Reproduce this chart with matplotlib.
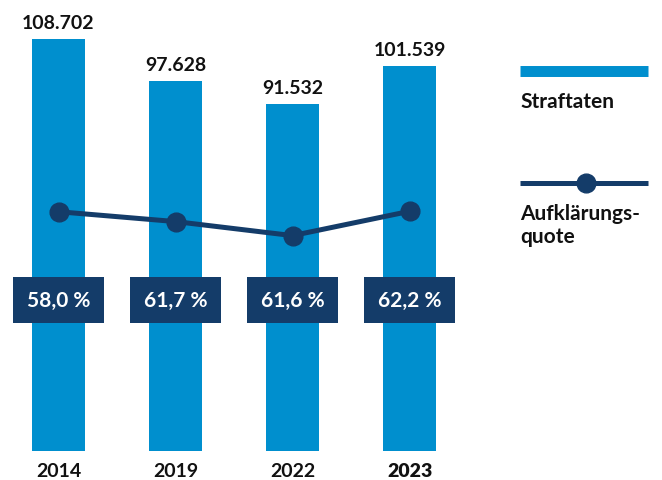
import matplotlib.pyplot as plt
from matplotlib.lines import Line2D

years = ["2014", "2019", "2022", "2023"]
straftaten = [108702, 97628, 91532, 101539]
quote = [58.0, 61.7, 61.6, 62.2]
quote_line_level = [63100, 60500, 56800, 63200]

BLUE = "#008fce"
NAVY = "#143c69"
FONT = "Lato"
INK = "#111111"

W, H = 662, 481
fig = plt.figure(figsize=(W / 100, H / 100), dpi=100)

# axes: bar centers at 58.5 + 117*i px, baseline at 452 px
ax = fig.add_axes([0, (H - 452) / H, 468 / W, 436 / H])
ax.set_xlim(-0.5, 3.5)
ax.set_ylim(0, 436 * 263.7)
ax.axis("off")

x = list(range(len(years)))
ax.bar(x, straftaten, width=53 / 117, color=BLUE, zorder=1)

for xi, v in zip(x, straftaten):
    label = f"{v:,}".replace(",", ".")
    ax.annotate(label, (xi, v), xytext=(0, 7.6), textcoords="offset points",
                ha="center", va="baseline", fontsize=14, fontweight="bold",
                family=FONT, color=INK)

for i, y in enumerate(years):
    ax.annotate(y, (i, 0), xytext=(0, -18), textcoords="offset points",
                ha="center", va="baseline", fontsize=14,
                fontweight="heavy" if i == len(years) - 1 else "bold",
                family=FONT, color=INK, annotation_clip=False)

ax.plot(x, quote_line_level, color=NAVY, lw=3.6, marker="o", ms=13.5, zorder=3)

# percentage boxes
box_h = 46 * 263.7
box_mid = (452 - 301) * 263.7
ax.bar(x, [box_h] * len(x), bottom=box_mid - box_h / 2, width=91 / 117,
       color=NAVY, zorder=4)
for xi, q in zip(x, quote):
    ax.text(xi, box_mid, f"{q:.1f} %".replace(".", ","), ha="center", va="center",
            fontsize=15, fontweight="bold", family=FONT, color="white", zorder=5)

# legend
def fx(px):
    return px / W

def fy(py):
    return 1 - py / H

fig.add_artist(Line2D([fx(520), fx(648)], [fy(72), fy(72)], color=BLUE, lw=7.9,
                      solid_capstyle="butt"))
fig.text(fx(520), fy(108), "Straftaten", ha="left", va="baseline", fontsize=15,
         fontweight="bold", family=FONT, color=INK)
fig.add_artist(Line2D([fx(520), fx(648)], [fy(184), fy(184)], color=NAVY, lw=3.6,
                      solid_capstyle="butt"))
fig.add_artist(Line2D([fx(586)], [fy(184)], color=NAVY, marker="o", ms=13.5, lw=0))
fig.text(fx(520), fy(220), "Aufklärungs-", ha="left", va="baseline", fontsize=15,
         fontweight="bold", family=FONT, color=INK)
fig.text(fx(520), fy(243), "quote", ha="left", va="baseline", fontsize=15,
         fontweight="bold", family=FONT, color=INK)

fig.savefig("out.png", dpi=100)
